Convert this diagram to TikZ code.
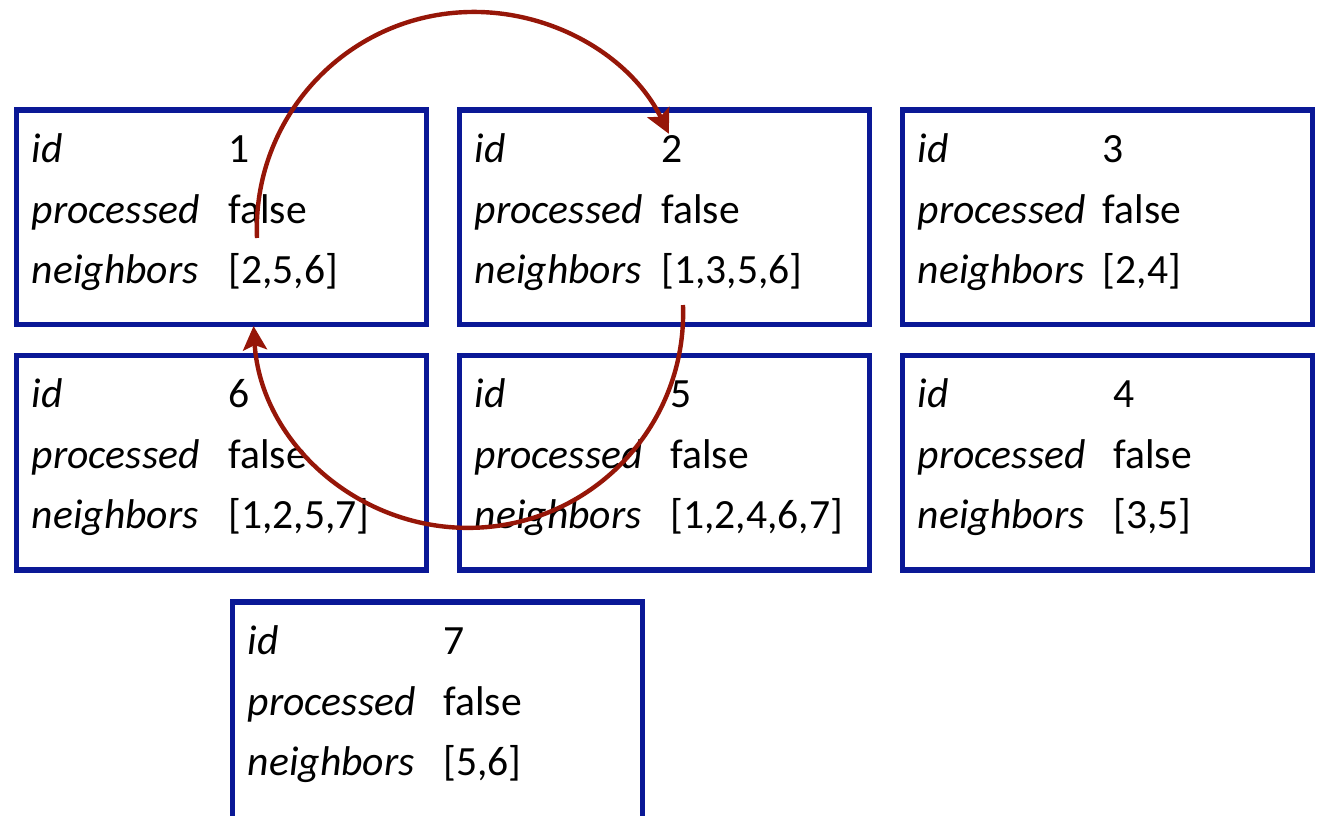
\documentclass[tikz,border=0pt]{standalone}
\usepackage{fontspec}
\setmainfont{Carlito}
\usetikzlibrary{arrows.meta}
\definecolor{boxblue}{RGB}{10,24,150}
\definecolor{linkred}{RGB}{150,22,8}
\tikzset{
  record/.style={draw=boxblue, line width=2.7pt, anchor=north west,
    minimum width=205pt, minimum height=107.25pt, inner sep=0pt, outer sep=0pt},
  key/.style={anchor=base west, inner sep=0pt, font=\fontsize{20.8}{24}\selectfont\itshape},
  val/.style={anchor=base west, inner sep=0pt, font=\fontsize{20.8}{24}\selectfont},
  link/.style={draw=linkred, line width=2.2pt,
    -{Stealth[length=12pt,width=12pt,inset=2.5pt]}}
}
% #1 name, #2 left, #3 top, #4 value column offset, #5 id, #6 neighbours, #7 box height
\newcommand{\vertexrecord}[7]{%
  \node[record, minimum height=#7] (#1) at (#2,-#3) {};
  \node[key] (#1-k1) at (#2+15,-#3-52)  {id};
  \node[key] (#1-k2) at (#2+15,-#3-113) {processed};
  \node[key] (#1-k3) at (#2+15,-#3-173) {neighbors};
  \node[val] (#1-v1) at (#2+#4,-#3-52)  {#5};
  \node[val] (#1-v2) at (#2+#4,-#3-113) {false};
  \node[val] (#1-v3) at (#2+#4,-#3-173) {#6};
}
\begin{document}
\begin{tikzpicture}[x=0.5pt, y=0.5pt]
  \useasboundingbox (0,0) rectangle (1324,-815);
  \clip (0,0) rectangle (1324,-815);
  % first row
  \vertexrecord{r1}{16.5}{110}{211.5}{1}{[2,5,6]}{107.25pt}
  \vertexrecord{r2}{459.5}{110}{201.5}{2}{[1,3,5,6]}{107.25pt}
  \vertexrecord{r3}{902.5}{110}{200}{3}{[2,4]}{107.25pt}
  % second row
  \vertexrecord{r6}{16.5}{355.5}{211.5}{6}{[1,2,5,7]}{107.25pt}
  \vertexrecord{r5}{459.5}{355.5}{210.5}{5}{[1,2,4,6,7]}{107.25pt}
  \vertexrecord{r4}{902.5}{355.5}{210.5}{4}{[3,5]}{107.25pt}
  % third row, running off the bottom edge
  \vertexrecord{r7}{232.5}{602}{210.5}{7}{[5,6]}{120pt}
  % traversal arrows
  \coordinate (from1) at (257,-238);
  \coordinate (from2) at (683,-305);
  \draw[link] (from1) arc[start angle=182.4, end angle=26, radius=108.5pt];
  \draw[link] (from2) arc[start angle=2.1, end angle=-176.5, radius=107.5pt];
\end{tikzpicture}
\end{document}
